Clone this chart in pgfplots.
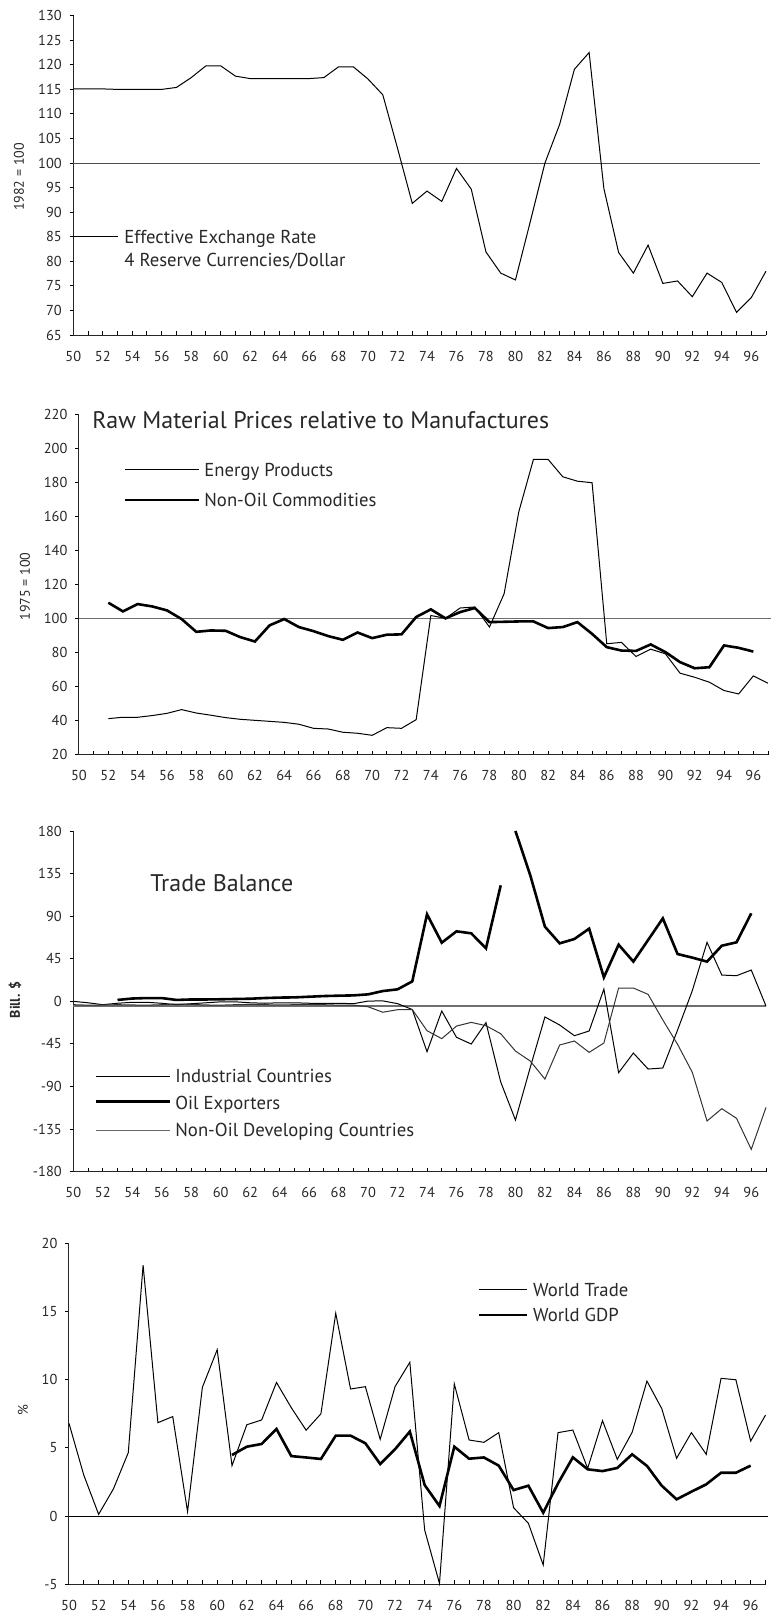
\documentclass[border=0pt]{standalone}
\usepackage{fontspec}
\setmainfont{PT Sans}
\usepackage{pgfplots}
\pgfplotsset{compat=1.18}
\definecolor{txt}{RGB}{40,40,40}
\definecolor{refgray}{RGB}{110,110,110}

\pgfplotsset{
  panel/.style={
    scale only axis,
    clip=false,
    axis x line*=bottom,
    axis y line*=left,
    xmin=50, xmax=97,
    xtick={50,52,...,96},
    minor xtick={51,53,...,97},
    tick align=inside,
    major tick length=2pt,
    minor tick length=2pt,
    every tick/.style={black, line width=0.5pt},
    every y tick/.append style={xshift=-1.8pt},
    axis line style={line width=0.5pt, black!85},
    /pgf/number format/assume math mode=true,
    xticklabel style={font=\fontsize{7.2}{8}\selectfont, text=txt, inner sep=0pt, anchor=north, yshift=-7.8pt},
    yticklabel style={font=\fontsize{7.2}{8}\selectfont, text=txt, inner sep=0pt, anchor=east, xshift=-5.6pt},
  },
  thin/.style={black, line width=0.5pt, mark=none},
  thick/.style={black, line width=1.3pt, mark=none},
}

\begin{document}
\begin{tikzpicture}
\useasboundingbox (0,0) rectangle (385.5pt,-808pt);

% ---------------- Panel 1: Effective exchange rate
\begin{axis}[panel,
  at={(36.65pt,-167.5pt)}, anchor=south west,
  width=346.35pt, height=159.65pt,
  ymin=65, ymax=130, ytick={65,70,...,130}]
\addplot[line width=0.5pt, black!70] coordinates {(50,100) (96.6,100)};
\addplot[thin] coordinates {
(50,115.1) (51,115.1) (52,115.1) (53,115.0) (54,115.0) (55,115.0) (56,115.0) (57,115.4)
(58,117.4) (59,119.8) (60,119.8) (61,117.7) (62,117.2) (63,117.2) (64,117.2) (65,117.2)
(66,117.2) (67,117.4) (68,119.6) (69,119.6) (70,117.1) (71,113.9) (72,103.0) (73,91.8)
(74,94.3) (75,92.2) (76,98.9) (77,94.7) (78,81.9) (79,77.6) (80,76.2) (81,88.0)
(82,100.0) (83,107.9) (84,119.1) (85,122.5) (86,94.8) (87,81.8) (88,77.6) (89,83.3)
(90,75.5) (91,76.0) (92,72.8) (93,77.6) (94,75.7) (95,69.6) (96,72.6) (97,78.0)};
\end{axis}

% ---------------- Panel 2: Raw material prices
\begin{axis}[panel,
  at={(39.5pt,-377.35pt)}, anchor=south west,
  width=344.5pt, height=170.2pt,
  ymin=20, ymax=220, ytick={20,40,...,220}]
\addplot[line width=0.8pt, refgray] coordinates {(50,100) (97.2,100)};
\addplot[thin] coordinates {
(52,41.2) (53,42.0) (54,42.0) (55,43.0) (56,44.3) (57,46.5) (58,44.5) (59,43.2)
(60,41.8) (61,40.8) (62,40.2) (63,39.6) (64,39.0) (65,37.9) (66,35.5) (67,35.1)
(68,33.2) (69,32.6) (70,31.4) (71,35.9) (72,35.5) (73,40.6) (74,101.8) (75,100.1)
(76,106.2) (77,106.8) (78,95.0) (79,114.6) (80,162.7) (81,193.5) (82,193.5) (83,183.3)
(84,180.7) (85,179.8) (86,85.2) (87,86.0) (88,77.7) (89,82.0) (90,79.3) (91,67.9)
(92,65.5) (93,62.6) (94,57.7) (95,55.7) (96,66.3) (97,62.0)};
\addplot[thick] coordinates {
(52,109.3) (53,104.2) (54,108.5) (55,107.1) (56,104.8) (57,99.7) (58,92.2) (59,93.0)
(60,92.8) (61,89.1) (62,86.5) (63,96.0) (64,99.7) (65,95.0) (66,92.6) (67,89.7)
(68,87.5) (69,91.8) (70,88.5) (71,90.5) (72,90.7) (73,100.9) (74,105.4) (75,100.1)
(76,103.8) (77,106.2) (78,97.9) (79,98.1) (80,98.3) (81,98.3) (82,94.4) (83,95.0)
(84,97.9) (85,91.0) (86,83.2) (87,81.2) (88,81.0) (89,84.8) (90,80.3) (91,74.4)
(92,70.8) (93,71.4) (94,84.2) (95,82.8) (96,80.6)};
\end{axis}

% ---------------- Panel 3: Trade balance
\begin{axis}[panel,
  at={(36.65pt,-585.85pt)}, anchor=south west,
  width=346.35pt, height=170.35pt,
  ymin=-180, ymax=180, ytick={-180,-135,...,180}]
\addplot[line width=0.8pt, refgray] coordinates {(50,-5) (97,-5)};
% Industrial Countries
\addplot[thin] coordinates {
(50,0) (51,-1.5) (52,-3.5) (53,-2) (54,-1) (55,-1) (56,-2) (57,-3.5)
(58,-2.5) (59,-1.5) (60,-0.5) (61,-0.5) (62,-1.5) (63,-2) (64,-1.5) (65,-1.5)
(66,-2) (67,-2) (68,-2) (69,-2.5) (70,0.3) (71,0.5) (72,-2.4) (73,-8.6)
(74,-53.2) (75,-10.2) (76,-38.0) (77,-45.1) (78,-22.5) (79,-85.2) (80,-125.4) (81,-70.0)
(82,-16.5) (83,-25.0) (84,-36.3) (85,-31.3) (86,13.0) (87,-75.4) (88,-54.6) (89,-71.5)
(90,-70.4) (91,-30.3) (92,11.3) (93,62.4) (94,27.8) (95,27.1) (96,33.1) (97,-4.9)};
% Non-Oil Developing Countries
\addplot[line width=0.5pt, black!80] coordinates {
(50,-3.5) (51,-4) (52,-3.8) (53,-3.5) (54,-3.8) (55,-4) (56,-3.5) (57,-2.8)
(58,-3.2) (59,-3.8) (60,-4) (61,-3.5) (62,-3.2) (63,-3.5) (64,-3.8) (65,-3.5)
(66,-3.2) (67,-3.5) (68,-4) (69,-4) (70,-5.7) (71,-11.5) (72,-8.8) (73,-8.6)
(74,-31.0) (75,-39.4) (76,-26.1) (77,-22.2) (78,-25.7) (79,-34.2) (80,-52.5) (81,-63.0)
(82,-82.1) (83,-46.1) (84,-41.9) (85,-53.9) (86,-44.0) (87,14.1) (88,14.1) (89,7.4)
(90,-19.7) (91,-45.4) (92,-75.0) (93,-126.4) (94,-113.4) (95,-123.6) (96,-156.4) (97,-112.0)};
% Oil Exporters
\addplot[thick] coordinates {
(53,1.5) (54,3.0) (55,3.5) (56,3.5) (57,1.5) (58,2.0) (59,2.0) (60,2.2)
(61,2.5) (62,2.8) (63,3.5) (64,4.0) (65,4.2) (66,4.9) (67,5.6) (68,6.0)
(69,6.3) (70,7.4) (71,10.9) (72,12.7) (73,21.1) (74,92.0) (75,62.0) (76,74.0)
(77,71.9) (78,56.0) (79,122.6)};
\addplot[thick] coordinates {
(80,180.0) (81,133.5) (82,78.9) (83,61.3) (84,65.9) (85,76.8) (86,25.4) (87,59.9)
(88,42.0) (89,64.8) (90,87.7) (91,50.0) (92,46.2) (93,42.0) (94,58.8) (95,62.4) (96,93.0)};
\end{axis}

% ---------------- Panel 4: World trade and GDP growth
\begin{axis}[panel,
  at={(34.5pt,-792.15pt)}, anchor=south west,
  width=348.25pt, height=170.5pt,
  ymin=-5, ymax=20, ytick={-5,0,...,20}]
\addplot[line width=0.5pt, black] coordinates {(50,0) (97.2,0)};
\addplot[thin] coordinates {
(50,6.8) (51,3.0) (52,0.13) (53,2.0) (54,4.65) (55,18.4) (56,6.85) (57,7.3)
(58,0.33) (59,9.44) (60,12.2) (61,3.7) (62,6.7) (63,7.05) (64,9.8) (65,7.95)
(66,6.3) (67,7.5) (68,14.87) (69,9.32) (70,9.49) (71,5.63) (72,9.49) (73,11.28)
(74,-1.02) (75,-4.93) (76,9.69) (77,5.58) (78,5.41) (79,6.12) (80,0.62) (81,-0.53)
(82,-3.58) (83,6.12) (84,6.31) (85,3.5) (86,7.0) (87,4.16) (88,6.14) (89,9.9)
(90,7.88) (91,4.24) (92,6.12) (93,4.53) (94,10.1) (95,10.0) (96,5.5) (97,7.41)};
\addplot[thick] coordinates {
(61,4.48) (62,5.09) (63,5.29) (64,6.39) (65,4.4) (66,4.3) (67,4.19) (68,5.9)
(69,5.9) (70,5.34) (71,3.82) (72,4.9) (73,6.2) (74,2.28) (75,0.74) (76,5.09)
(77,4.21) (78,4.3) (79,3.7) (80,1.91) (81,2.23) (82,0.25) (83,2.4) (84,4.31)
(85,3.43) (86,3.3) (87,3.53) (88,4.53) (89,3.68) (90,2.23) (91,1.23) (92,1.79)
(93,2.33) (94,3.18) (95,3.18) (96,3.7)};
\end{axis}

% ---------------- Axis titles (y labels)
\begin{scope}[every node/.style={text=txt, font=\fontsize{7}{8}\selectfont, inner sep=0pt}]
\node[rotate=90] at (9.5pt,-88.5pt) {1982 = 100};
\node[rotate=90] at (12.5pt,-293.3pt) {1975 = 100};
\node[rotate=90, font=\fontsize{7}{8}\selectfont\bfseries] at (7.5pt,-500pt) {Bill. \$};
\node[rotate=90] at (11.5pt,-705pt) {\%};
\end{scope}

% ---------------- Titles and legends
\begin{scope}[every node/.style={text=txt, font=\fontsize{9.35}{10}\selectfont, inner sep=0pt, anchor=base west}]
% panel 1
\draw[line width=0.5pt] (35pt,-118.4pt) -- (59pt,-118.4pt);
\node at (62pt,-121.65pt) {Effective Exchange Rate};
\node at (62pt,-133.35pt) {4 Reserve Currencies/Dollar};
% panel 2
\node[font=\fontsize{12}{14}\selectfont] at (46pt,-214pt) {Raw Material Prices relative to Manufactures};
\draw[line width=0.5pt] (62.5pt,-234.65pt) -- (99.5pt,-234.65pt);
\node at (102pt,-238pt) {Energy Products};
\draw[line width=1.3pt] (62.5pt,-250pt) -- (99.5pt,-250pt);
\node at (102pt,-253.35pt) {Non-Oil Commodities};
% panel 3
\node[font=\fontsize{12}{14}\selectfont] at (75pt,-445.85pt) {Trade Balance};
\draw[line width=0.5pt] (48pt,-538pt) -- (85pt,-538pt);
\node at (87.5pt,-541.35pt) {Industrial Countries};
\draw[line width=1.3pt] (48pt,-550.85pt) -- (85pt,-550.85pt);
\node at (87.5pt,-554.5pt) {Oil Exporters};
\draw[line width=0.5pt, black!60] (48pt,-565pt) -- (85pt,-565pt);
\node at (87.5pt,-568.35pt) {Non-Oil Developing Countries};
% panel 4
\draw[line width=0.5pt] (239.5pt,-644.65pt) -- (263.5pt,-644.65pt);
\node at (266.35pt,-648pt) {World Trade};
\draw[line width=1.3pt] (239.5pt,-657.5pt) -- (263.5pt,-657.5pt);
\node at (266.35pt,-660.85pt) {World GDP};
\end{scope}
\end{tikzpicture}
\end{document}
